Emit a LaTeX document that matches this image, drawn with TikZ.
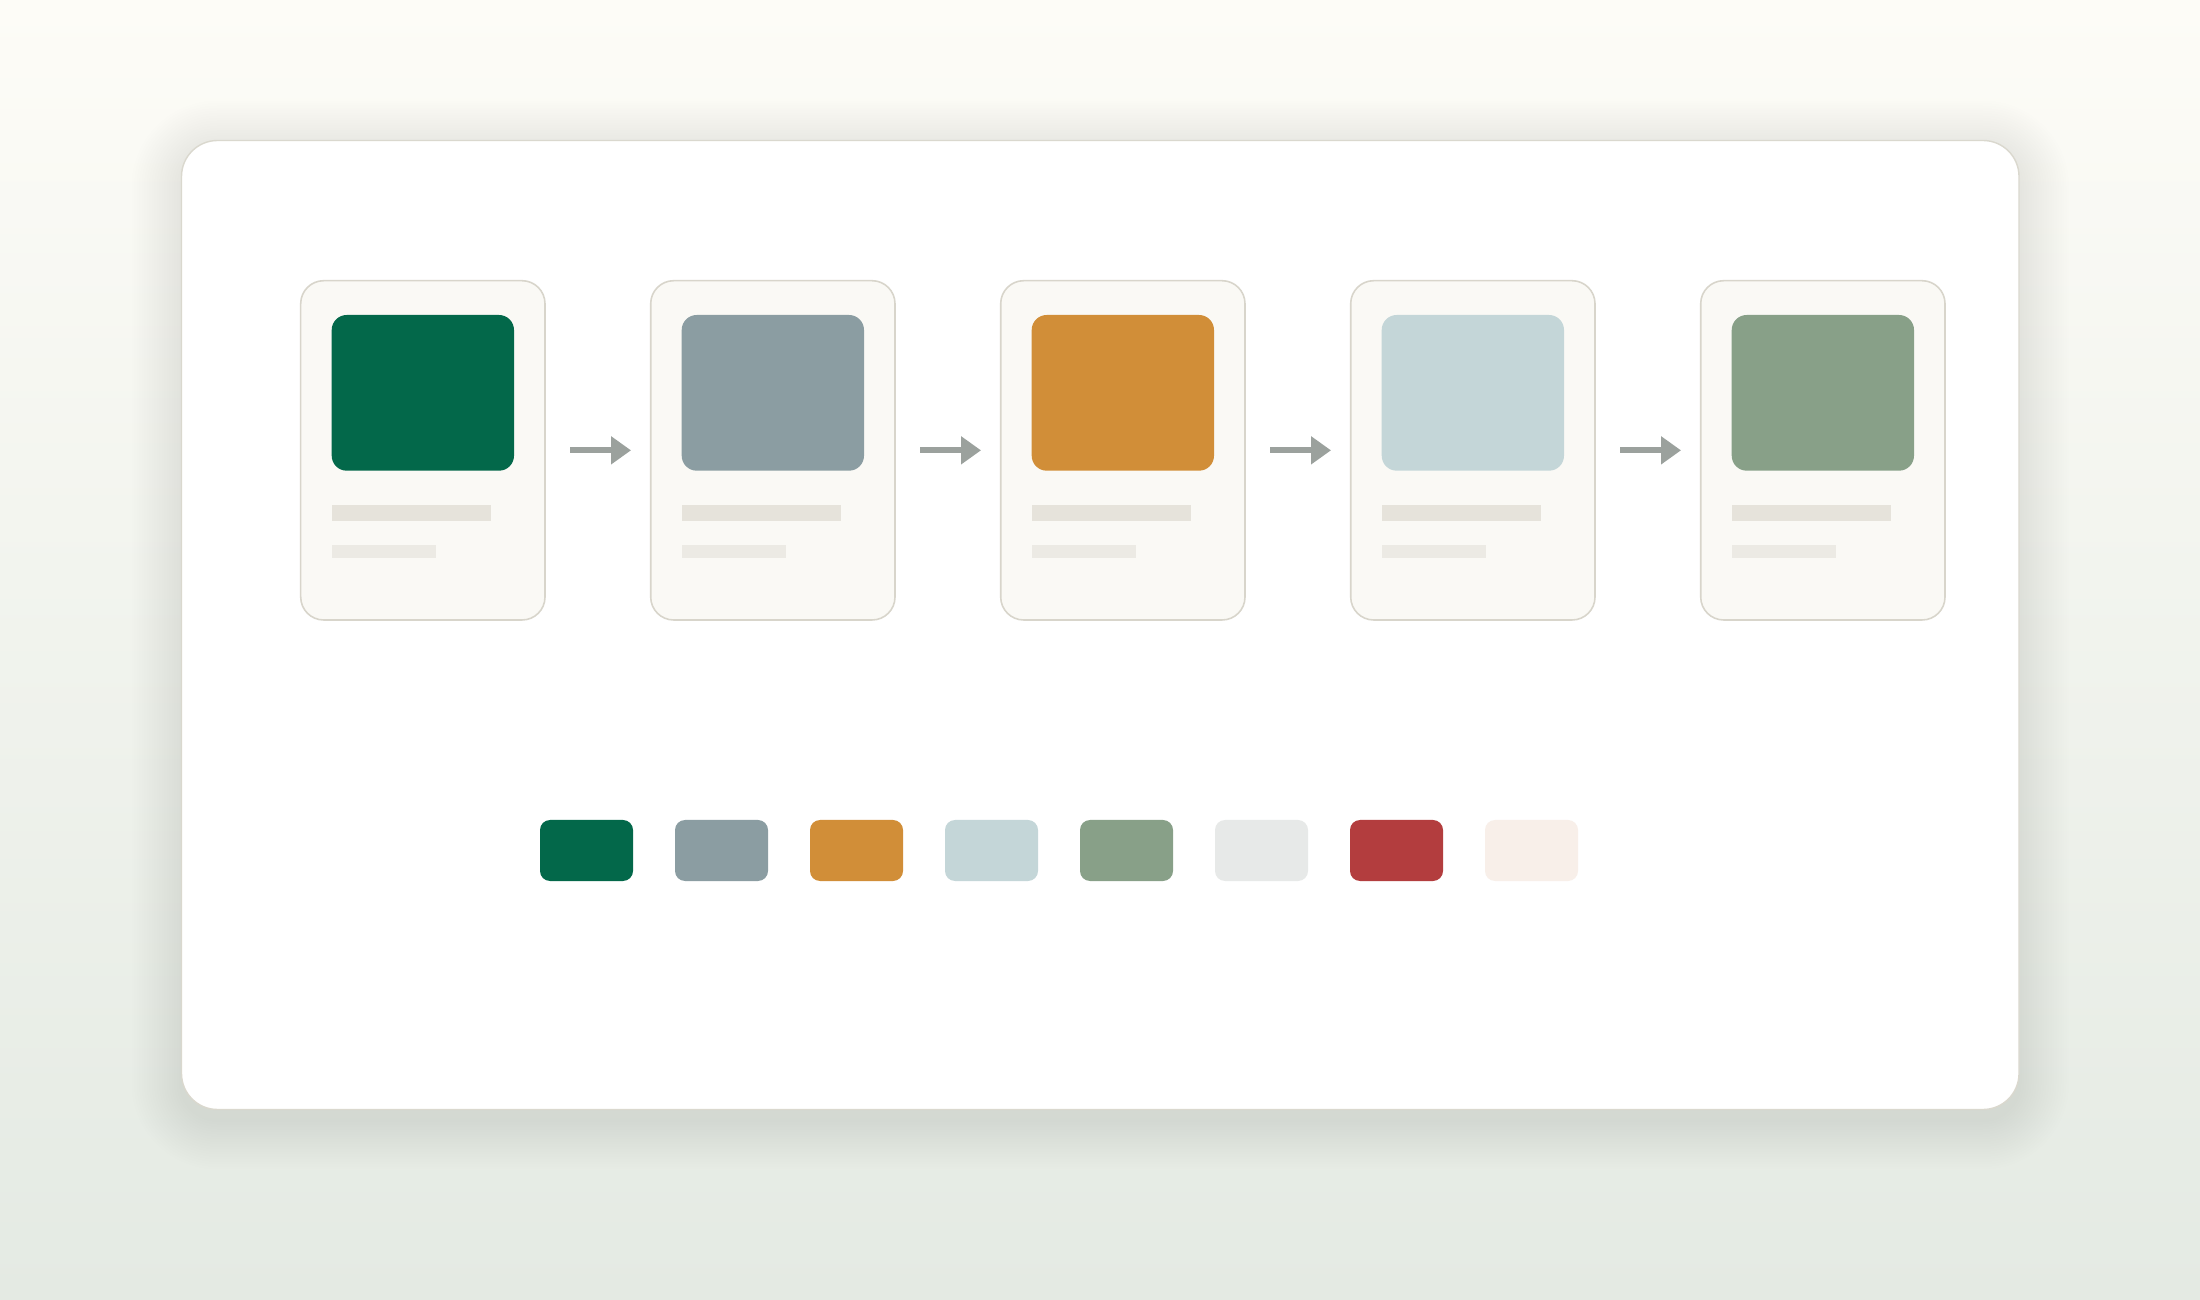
\documentclass[tikz,border=0pt]{standalone}
\usetikzlibrary{positioning,arrows.meta}
\definecolor{BgTop}{HTML}{FDFCF7}
\definecolor{BgBottom}{HTML}{E4EAE3}
\definecolor{BoardLine}{HTML}{DAD8CE}
\definecolor{CardFill}{HTML}{FAF9F5}
\definecolor{CardLine}{HTML}{D8D5CB}
\definecolor{BarDark}{HTML}{E6E3DB}
\definecolor{BarLight}{HTML}{ECEAE4}
\definecolor{ArrowGray}{HTML}{9BA19D}
\definecolor{DeepGreen}{HTML}{03684A}
\definecolor{Slate}{HTML}{8B9DA2}
\definecolor{Ochre}{HTML}{D18E38}
\definecolor{PaleBlue}{HTML}{C4D6D8}
\definecolor{Sage}{HTML}{88A088}
\definecolor{MistGray}{HTML}{E7E9E8}
\definecolor{Brick}{HTML}{B33D3E}
\definecolor{Cream}{HTML}{F8EFE9}

\begin{document}
\begin{tikzpicture}[
  carte/.style={draw=CardLine,line width=.45pt,fill=CardFill,rounded corners=.23cm,minimum width=2.443cm,minimum height=3.393cm,inner sep=0pt,outer sep=0pt},
  vignette/.style={rounded corners=.15cm,minimum width=1.823cm,minimum height=1.557cm,inner sep=0pt,outer sep=0pt},
  barre/.style={inner sep=0pt,outer sep=0pt,minimum height=.157cm},
  pastille/.style={rounded corners=.1cm,minimum width=.93cm,minimum height=.61cm,inner sep=0pt,outer sep=0pt},
  fleche/.style={-{Triangle[length=.2cm,width=.27cm]},line width=1.7pt,draw=ArrowGray,shorten <=.25cm,shorten >=.197cm}]
\useasboundingbox (0,0) rectangle (22,-13);
\shade[top color=BgTop,bottom color=BgBottom] (0,0) rectangle (22,-13);
% ombre douce sous le plateau
\foreach \i in {1,...,20} {
  \pgfmathsetmacro\e{\i*.025}
  \pgfmathsetmacro\r{.36+\e}
  \fill[black,opacity=.0035,rounded corners=\r cm] (1.815-\e,-11.195-\e) rectangle (20.19+\e,-1.505+\e);
}
\node[draw=BoardLine,line width=.4pt,fill=white,rounded corners=.36cm,minimum width=18.375cm,minimum height=9.69cm,inner sep=0pt] (plateau) at (11.0025,-6.25) {};

% les cinq cartes
\node[carte] (carte1) at (4.2285,-4.5035) {};
\node[carte,right=1.057cm of carte1] (carte2) {};
\node[carte,right=1.057cm of carte2] (carte3) {};
\node[carte,right=1.057cm of carte3] (carte4) {};
\node[carte,right=1.057cm of carte4] (carte5) {};

\node[vignette,fill=DeepGreen,below=.343cm of carte1.north] (vignette1) {};
\node[vignette,fill=Slate,below=.343cm of carte2.north] (vignette2) {};
\node[vignette,fill=Ochre,below=.343cm of carte3.north] (vignette3) {};
\node[vignette,fill=PaleBlue,below=.343cm of carte4.north] (vignette4) {};
\node[vignette,fill=Sage,below=.343cm of carte5.north] (vignette5) {};

\node[barre,fill=BarDark,minimum width=1.596cm,below right=.343cm and 0cm of vignette1.south west] (barre1a) {};
\node[barre,fill=BarLight,minimum width=1.043cm,minimum height=.127cm,below right=.243cm and 0cm of barre1a.south west] (barre1b) {};
\node[barre,fill=BarDark,minimum width=1.596cm,below right=.343cm and 0cm of vignette2.south west] (barre2a) {};
\node[barre,fill=BarLight,minimum width=1.043cm,minimum height=.127cm,below right=.243cm and 0cm of barre2a.south west] (barre2b) {};
\node[barre,fill=BarDark,minimum width=1.596cm,below right=.343cm and 0cm of vignette3.south west] (barre3a) {};
\node[barre,fill=BarLight,minimum width=1.043cm,minimum height=.127cm,below right=.243cm and 0cm of barre3a.south west] (barre3b) {};
\node[barre,fill=BarDark,minimum width=1.596cm,below right=.343cm and 0cm of vignette4.south west] (barre4a) {};
\node[barre,fill=BarLight,minimum width=1.043cm,minimum height=.127cm,below right=.243cm and 0cm of barre4a.south west] (barre4b) {};
\node[barre,fill=BarDark,minimum width=1.596cm,below right=.343cm and 0cm of vignette5.south west] (barre5a) {};
\node[barre,fill=BarLight,minimum width=1.043cm,minimum height=.127cm,below right=.243cm and 0cm of barre5a.south west] (barre5b) {};

\draw[fleche] (carte1) -- (carte2);
\draw[fleche] (carte2) -- (carte3);
\draw[fleche] (carte3) -- (carte4);
\draw[fleche] (carte4) -- (carte5);

% la palette
\node[pastille,fill=DeepGreen] (pastille1) at (5.865,-8.505) {};
\node[pastille,fill=Slate,right=.42cm of pastille1] (pastille2) {};
\node[pastille,fill=Ochre,right=.42cm of pastille2] (pastille3) {};
\node[pastille,fill=PaleBlue,right=.42cm of pastille3] (pastille4) {};
\node[pastille,fill=Sage,right=.42cm of pastille4] (pastille5) {};
\node[pastille,fill=MistGray,right=.42cm of pastille5] (pastille6) {};
\node[pastille,fill=Brick,right=.42cm of pastille6] (pastille7) {};
\node[pastille,fill=Cream,right=.42cm of pastille7] (pastille8) {};
\end{tikzpicture}
\end{document}
